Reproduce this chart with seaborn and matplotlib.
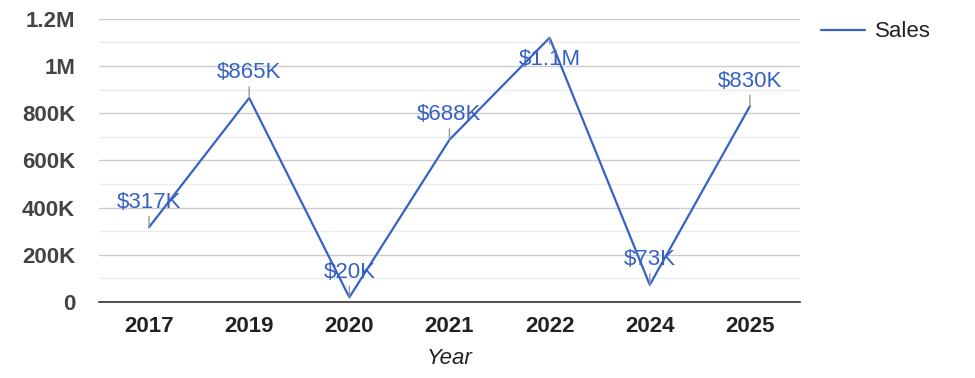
import matplotlib
matplotlib.use('Agg')
import matplotlib.pyplot as plt
import seaborn as sns
import pandas as pd
from matplotlib.ticker import MultipleLocator, FuncFormatter

years = ['2017', '2019', '2020', '2021', '2022', '2024', '2025']
sales = [317000, 865000, 20000, 688000, 1120000, 73000, 830000]
labels = ['$317K', '$865K', '$20K', '$688K', '$1.1M', '$73K', '$830K']

sns.set_style('white')
plt.rcParams['font.family'] = ['Liberation Sans', 'DejaVu Sans']

df = pd.DataFrame({'Year': years, 'Sales': sales})

fig = plt.figure(figsize=(9.75, 3.78), dpi=100)
ax = fig.add_axes([0.1015, 0.201, 0.719, 0.749])

line_col = '#3762c4'
sns.lineplot(data=df, x='Year', y='Sales', sort=False, color=line_col, lw=1.6,
             label='Sales', ax=ax)

# data labels with short leader lines
for i, (v, t) in enumerate(zip(sales, labels)):
    if v > 1000000:
        ax.annotate('', xy=(i, v), xytext=(0, -6), textcoords='offset pixels',
                    arrowprops=dict(arrowstyle='-', color='#999999', lw=1, shrinkA=0, shrinkB=0))
        ax.annotate(t, xy=(i, v), xytext=(0, -22), textcoords='offset pixels',
                    ha='center', va='center', fontsize=16, color=line_col)
    else:
        ax.annotate('', xy=(i, v), xytext=(0, 11), textcoords='offset pixels',
                    arrowprops=dict(arrowstyle='-', color='#999999', lw=1, shrinkA=0, shrinkB=0))
        ax.annotate(t, xy=(i, v), xytext=(0, 25), textcoords='offset pixels',
                    ha='center', va='center', fontsize=16, color=line_col)

ax.set_xlim(-0.5, 6.5)
ax.set_ylim(0, 1200000)
ax.yaxis.set_major_locator(MultipleLocator(200000))
ax.yaxis.set_minor_locator(MultipleLocator(100000))


def fmt(v, pos):
    if v == 0:
        return '0'
    if v >= 1000000:
        return '{:g}M'.format(v / 1000000)
    return '{:g}K'.format(v / 1000)


ax.yaxis.set_major_formatter(FuncFormatter(fmt))
ax.grid(axis='y', which='major', color='#cccccc', lw=1)
ax.grid(axis='y', which='minor', color='#ebebeb', lw=1)
ax.set_axisbelow(True)

for s in ['top', 'right', 'left']:
    ax.spines[s].set_visible(False)
ax.spines['bottom'].set_color('#333333')
ax.spines['bottom'].set_linewidth(1.2)

ax.tick_params(axis='both', which='both', length=0)
ax.tick_params(axis='y', pad=17, labelsize=16, labelcolor='#444444')
ax.tick_params(axis='x', pad=10, labelsize=16, labelcolor='#222222')
for lbl in ax.get_xticklabels() + ax.get_yticklabels():
    lbl.set_fontweight('bold')

ax.set_xlabel('Year', fontsize=16, style='italic', color='#222222', labelpad=8)
ax.set_ylabel('')

ax.legend(loc='upper left', bbox_to_anchor=(1.002, 1.062), frameon=False,
          fontsize=16, handlelength=1.95, handletextpad=0.45, labelcolor='#222222')

fig.savefig('out.png', dpi=100)
